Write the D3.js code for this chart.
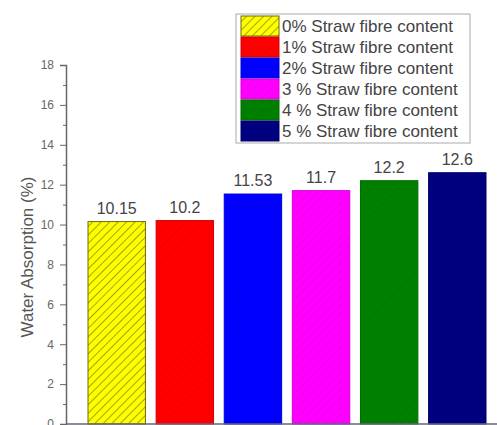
<!DOCTYPE html>
<html>
<head>
<meta charset="utf-8">
<script src="https://cdn.jsdelivr.net/npm/d3@7"></script>
<style>
  body { margin: 0; background: #fff; }
  text { font-family: "Liberation Sans", Arial, sans-serif; }
</style>
</head>
<body>
<svg id="chart" width="497" height="425"></svg>
<script>
// data
const categories = ['0%', '1%', '2%', '3 %', '4 %', '5 %'];
const values = [10.15, 10.2, 11.53, 11.7, 12.2, 12.6];
const labels = ['10.15', '10.2', '11.53', '11.7', '12.2', '12.6'];
const legendNames = ['0% Straw fibre content', '1% Straw fibre content', '2% Straw fibre content',
  '3 % Straw fibre content', '4 % Straw fibre content', '5 % Straw fibre content'];
const colors = ['#ffff00', '#ff0000', '#0000ff', '#ff00ff', '#008000', '#000080'];
const yTicks = [0, 2, 4, 6, 8, 10, 12, 14, 16, 18];

const svg = d3.select('#chart');
const width = 497, height = 425;

const xScale = d3.scaleBand()
  .domain(categories)
  .range([88, 486])
  .paddingInner(0.157)
  .paddingOuter(0);

const yScale = d3.scaleLinear()
  .domain([0, 18])
  .range([424, 65]);

// hatch patterns
const defs = svg.append('defs');
colors.forEach((c, i) => {
  const p = defs.append('pattern')
    .attr('id', 'hatch' + i)
    .attr('patternUnits', 'userSpaceOnUse')
    .attr('width', 6)
    .attr('height', 6)
    .attr('patternTransform', 'rotate(45)');
  p.append('rect').attr('width', 6).attr('height', 6).attr('fill', c);
  p.append('line')
    .attr('x1', 0).attr('y1', 0).attr('x2', 0).attr('y2', 6)
    .attr('stroke', i === 0 ? '#9a9a10' : d3.color(c).darker(0.7))
    .attr('stroke-width', i === 0 ? 2 : 1.5)
    .attr('stroke-opacity', i === 0 ? 0.9 : 0.3);
});

// y axis
const yAxis = d3.axisLeft(yScale)
  .tickValues(yTicks)
  .tickSize(6)
  .tickPadding(6);

const yMinor = d3.axisLeft(yScale)
  .tickValues(d3.range(1, 18, 2))
  .tickSize(3)
  .tickFormat('');

const yAxisG = svg.append('g')
  .attr('class', 'yAxis')
  .attr('transform', `translate(66,0)`)
  .call(yAxis);
yAxisG.select('.domain').attr('stroke', '#666').attr('stroke-width', 1.5);
yAxisG.selectAll('line').attr('stroke', '#666');
yAxisG.selectAll('text')
  .attr('fill', '#666')
  .style('font-size', '12px');

svg.append('g')
  .attr('transform', `translate(66,0)`)
  .call(yMinor)
  .call(g => g.select('.domain').remove())
  .selectAll('line').attr('stroke', '#666');

svg.append('text')
  .attr('transform', `rotate(270)`)
  .attr('x', -257)
  .attr('y', 33)
  .attr('text-anchor', 'middle')
  .attr('fill', '#555')
  .style('font-size', '17px')
  .text('Water Absorption (%)');

// bars
svg.selectAll('.bar')
  .data(values)
  .enter().append('rect')
  .attr('class', 'bar')
  .attr('x', (d, i) => xScale(categories[i]))
  .attr('y', d => yScale(d))
  .attr('width', xScale.bandwidth())
  .attr('height', d => yScale(0) - yScale(d))
  .attr('fill', (d, i) => `url(#hatch${i})`)
  .attr('stroke', (d, i) => i === 0 ? '#6b6b10' : d3.color(colors[i]).darker(0.5))
  .attr('stroke-width', 1);

svg.selectAll('.val-label')
  .data(values)
  .enter().append('text')
  .attr('class', 'val-label')
  .attr('x', (d, i) => xScale(categories[i]) + xScale.bandwidth() / 2)
  .attr('y', d => yScale(d) - 8)
  .attr('text-anchor', 'middle')
  .attr('fill', '#444')
  .style('font-size', '16px')
  .text((d, i) => labels[i]);

// x axis line along the bottom
svg.append('line')
  .attr('x1', 66).attr('x2', width)
  .attr('y1', yScale(0)).attr('y2', yScale(0))
  .attr('stroke', '#667').attr('stroke-width', 1.5);

// legend
const legend = svg.append('g').attr('class', 'legend');
legend.append('rect')
  .attr('x', 236).attr('y', 14)
  .attr('width', 234).attr('height', 129)
  .attr('fill', '#fff')
  .attr('stroke', '#aaa');

const rows = legend.selectAll('.row')
  .data(legendNames)
  .enter().append('g')
  .attr('class', 'row')
  .attr('transform', (d, i) => `translate(0,${16 + i * 21})`);

rows.append('rect')
  .attr('x', 241).attr('y', 0)
  .attr('width', 38).attr('height', 20)
  .attr('fill', (d, i) => `url(#hatch${i})`)
  .attr('stroke', (d, i) => i === 0 ? '#6b6b10' : d3.color(colors[i]).darker(0.5));

rows.append('text')
  .attr('x', 282)
  .attr('y', 16)
  .attr('fill', '#444')
  .style('font-size', '17px')
  .text(d => d);
</script>
</body>
</html>
